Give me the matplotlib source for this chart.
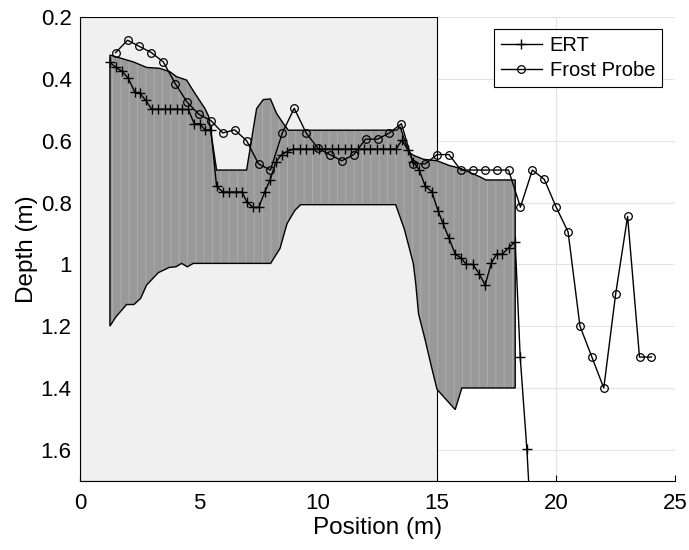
import numpy as np
import matplotlib

matplotlib.use("Agg")
import matplotlib.pyplot as plt

plt.rcParams["font.family"] = ["Liberation Sans", "DejaVu Sans"]
plt.rcParams["hatch.color"] = "#acacac"
plt.rcParams["hatch.linewidth"] = 0.7

# ERT-derived frost depth (m) along the transect
ert_x = [1.26, 1.51, 1.75, 2.03, 2.31, 2.52, 2.76, 3.01, 3.29, 3.57, 3.78, 4.06, 4.30,
         4.55, 4.80, 5.03, 5.25, 5.50, 5.74, 6.00, 6.25, 6.55, 6.81, 7.00, 7.27, 7.51,
         7.76, 7.99, 8.22, 8.47, 8.70, 8.96, 9.23, 9.50, 9.77, 10.04, 10.31, 10.58,
         10.85, 11.12, 11.39, 11.66, 11.93, 12.20, 12.47, 12.74, 13.01, 13.28, 13.52,
         13.78, 14.00, 14.25, 14.50, 14.78, 15.04, 15.24, 15.50, 15.76, 16.00, 16.22,
         16.50, 16.76, 17.02, 17.27, 17.50, 17.74, 18.00, 18.28, 18.49, 18.77, 18.95]
ert_depth = [0.347, 0.363, 0.374, 0.398, 0.444, 0.447, 0.469, 0.498, 0.498, 0.498, 0.498,
             0.498, 0.499, 0.499, 0.545, 0.545, 0.565, 0.565, 0.748, 0.766, 0.766, 0.766,
             0.766, 0.797, 0.816, 0.816, 0.766, 0.726, 0.670, 0.645, 0.635, 0.627, 0.627,
             0.627, 0.627, 0.627, 0.627, 0.627, 0.627, 0.627, 0.627, 0.627, 0.627, 0.627,
             0.627, 0.627, 0.627, 0.627, 0.598, 0.630, 0.668, 0.695, 0.747, 0.765, 0.827,
             0.866, 0.916, 0.967, 0.979, 1.000, 1.000, 1.030, 1.067, 0.997, 0.967, 0.967,
             0.947, 0.927, 1.300, 1.598, 1.850]

# frost probe depth (m), every 0.5 m
probe_x = [1.5, 2.0, 2.5, 3.0, 3.5, 4.0, 4.5, 5.0, 5.5, 6.0, 6.5, 7.0, 7.5, 8.0, 8.5,
           9.0, 9.5, 10.0, 10.5, 11.0, 11.5, 12.0, 12.5, 13.0, 13.5, 14.0, 14.5, 15.0,
           15.5, 16.0, 16.5, 17.0, 17.5, 18.0, 18.5, 19.0, 19.5, 20.0, 20.5, 21.0, 21.5,
           22.0, 22.5, 23.0, 23.5, 24.0]
probe_depth = [0.315, 0.275, 0.295, 0.315, 0.345, 0.415, 0.475, 0.515, 0.535, 0.575,
               0.565, 0.600, 0.675, 0.695, 0.575, 0.495, 0.575, 0.625, 0.645, 0.665,
               0.645, 0.595, 0.595, 0.575, 0.545, 0.675, 0.675, 0.645, 0.645, 0.695,
               0.695, 0.695, 0.695, 0.695, 0.815, 0.695, 0.725, 0.815, 0.895, 1.200,
               1.300, 1.400, 1.095, 0.845, 1.300, 1.300]

# uncertainty band: upper and lower envelope
band_top_x = [1.26, 1.40, 2.24, 2.80, 3.36, 3.78, 4.06, 4.48, 4.83, 5.25, 5.40, 5.74,
              7.00, 7.42, 7.70, 8.00, 8.26, 8.54, 8.75, 13.30, 13.45, 13.80, 14.00,
              14.42, 15.00, 15.50, 16.00, 16.80, 17.05, 18.28]
band_top = [0.323, 0.326, 0.345, 0.363, 0.366, 0.377, 0.393, 0.404, 0.447, 0.496, 0.520,
            0.695, 0.695, 0.496, 0.467, 0.465, 0.512, 0.544, 0.566, 0.566, 0.555, 0.636,
            0.647, 0.660, 0.665, 0.680, 0.690, 0.717, 0.727, 0.727]
band_bot_x = [1.26, 1.51, 1.96, 2.27, 2.55, 2.80, 3.29, 3.75, 4.03, 4.27, 4.51, 4.76,
              8.01, 8.40, 8.70, 9.03, 9.27, 13.26, 13.62, 14.00, 14.10, 14.22, 14.50,
              14.78, 15.00, 15.76, 16.04, 18.28]
band_bot = [1.200, 1.170, 1.130, 1.130, 1.110, 1.067, 1.027, 1.010, 1.008, 0.997, 1.008,
            0.997, 0.997, 0.949, 0.868, 0.825, 0.807, 0.807, 0.885, 0.997, 1.060, 1.160,
            1.245, 1.337, 1.405, 1.470, 1.400, 1.400]

xticks = [0, 5, 10, 15, 20, 25]
yticks = [0.2, 0.4, 0.6, 0.8, 1.0, 1.2, 1.4, 1.6]
ytick_labels = ["0.2", "0.4", "0.6", "0.8", "1", "1.2", "1.4", "1.6"]
shade_end = 15

fig = plt.figure(figsize=(6.89, 5.50), dpi=100)
ax = fig.add_axes([0.116, 0.126, 0.864, 0.843])

ax.set_axisbelow(True)
ax.grid(True, color="#e3e3e3", lw=0.8)
ax.axvspan(0, shade_end, facecolor="#f0f0f0", edgecolor="k", lw=0.8, zorder=1)

poly_x = np.concatenate([band_top_x, band_bot_x[::-1]])
poly_y = np.concatenate([band_top, band_bot[::-1]])
ax.fill(poly_x, poly_y, facecolor="#999999", hatch="||", zorder=2)
ax.fill(poly_x, poly_y, fill=False, edgecolor="k", lw=1.0, zorder=2)

ax.plot(ert_x, ert_depth, "k-", marker="+", ms=7, mew=1.0, lw=1.0, label="ERT", zorder=3)
ax.plot(probe_x, probe_depth, "k-", marker="o", ms=5.5, mfc="none", mew=0.9, lw=1.0,
        label="Frost Probe", zorder=3)

ax.set_xlim(0, 25)
ax.set_ylim(1.7, 0.2)
ax.set_xticks(xticks)
ax.set_yticks(yticks)
ax.set_yticklabels(ytick_labels)
ax.tick_params(direction="in", labelsize=16, length=4)
ax.tick_params(axis="x", pad=9)
ax.tick_params(axis="y", pad=6)
ax.spines["top"].set_visible(False)
ax.spines["right"].set_visible(False)
ax.set_xlabel("Position (m)", fontsize=17.5, labelpad=2)
ax.set_ylabel("Depth (m)", fontsize=17.5, labelpad=2)

leg = ax.legend(loc="upper right", bbox_to_anchor=(0.978, 0.975), borderaxespad=0,
                fontsize=14.5, frameon=True, fancybox=False, edgecolor="k",
                framealpha=1, handlelength=2.0, handletextpad=0.4, borderpad=0.35,
                labelspacing=0.3)
leg.get_frame().set_linewidth(0.8)

fig.savefig("out.png", dpi=100)
